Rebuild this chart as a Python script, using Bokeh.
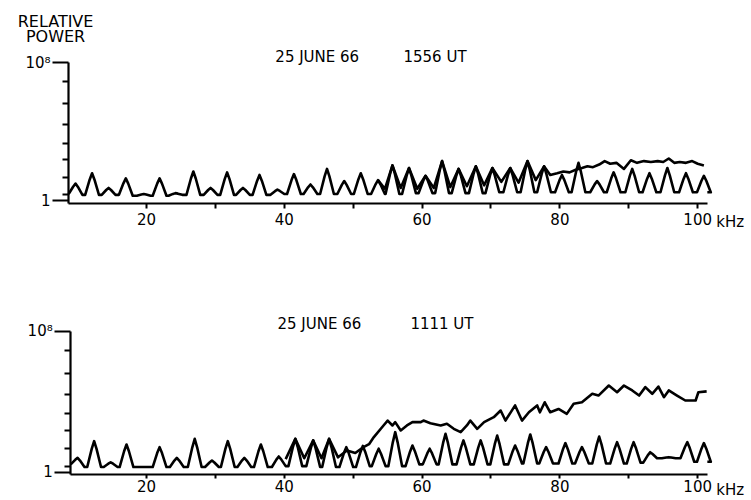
from bokeh.plotting import figure
from bokeh.layouts import column
from bokeh.models import FixedTicker, Label
from bokeh.embed import file_html
from bokeh.resources import INLINE

FONT = "DejaVu Sans"

# ---------------- data (frequency in kHz, power as log10 of relative power) -------------
x_major = [20, 40, 60, 80, 100]
x_minor = [30, 50, 70, 90]
x_labels = {20: "20", 40: "40", 60: "60", 80: "80", 100: "100"}
y_major = [0, 8]
y_minor = [0.35, 1.34, 2.37, 3.32, 4.41, 5.61, 6.9]
y_labels = {0: "1", 8: "10\u2078"}
y_axis_label = ["RELATIVE", "POWER"]
freq_unit = "kHz"

# top panel: 25 JUNE 66 1556 UT
top_title_date = "25 JUNE 66"
top_title_time = "1556 UT"
top_peak_khz = [9.7, 12.1, 14.5, 17.0, 19.6, 21.9, 24.2, 26.8, 29.3, 31.7, 34.0, 36.4, 39.0,
                41.4, 43.8, 46.2, 48.7, 51.1, 53.6, 55.7, 58.1, 60.5, 62.9, 65.3, 67.8, 70.2,
                72.8, 75.3, 77.7, 80.3, 82.7, 85.4, 87.8, 90.5, 93.0, 95.6, 98.3, 100.9]
top_peak_pow = [1.0, 1.6, 0.75, 1.3, 0.4, 1.3, 0.45, 1.7, 0.75, 1.65, 0.75, 1.5, 0.65,
                1.55, 0.95, 1.85, 1.15, 1.6, 1.2, 2.05, 1.9, 1.45, 2.3, 1.85, 2.0, 1.9,
                1.9, 2.3, 2.0, 1.5, 2.2, 1.15, 1.65, 1.85, 1.6, 1.9, 1.6, 1.45]
top_trough_pow = [0.4, 0.35, 0.35, 0.35, 0.3, 0.3, 0.3, 0.35, 0.35, 0.35, 0.35, 0.35, 0.35,
                  0.4, 0.4, 0.4, 0.4, 0.4, 0.4, 0.4, 0.4, 0.45, 0.45, 0.45, 0.45, 0.45,
                  0.5, 0.5, 0.5, 0.5, 0.5, 0.5, 0.5, 0.5, 0.5, 0.5, 0.5, 0.5, 0.5]
top_upper_khz = [53.6, 54.6, 55.7, 56.9, 58.1, 59.3, 60.5, 61.7, 62.9, 64.1, 65.3, 66.5, 67.8,
                 69.0, 70.2, 71.5, 72.8, 74.0, 75.3, 76.5, 77.7, 78.6, 79.6, 80.5, 81.4, 82.3,
                 83.2, 84.0, 84.8, 85.7, 86.5, 87.3, 88.2, 89.3, 90.3, 91.2, 92.2, 93.2, 94.2,
                 95.0, 95.8, 96.6, 97.4, 98.3, 99.2, 100.0, 100.9]
top_upper_pow = [1.2, 0.7, 2.05, 0.75, 1.9, 0.7, 1.45, 0.75, 2.3, 0.8, 1.85, 0.85, 2.0,
                 0.9, 1.9, 1.1, 1.9, 1.05, 2.3, 1.2, 2.0, 1.5, 1.6, 1.7, 1.65, 1.8,
                 1.9, 2.0, 1.95, 2.1, 2.3, 2.15, 2.2, 1.85, 2.35, 2.2, 2.3, 2.25, 2.3,
                 2.25, 2.45, 2.2, 2.25, 2.2, 2.3, 2.15, 2.05]

# bottom panel: 25 JUNE 66 1111 UT
bot_title_date = "25 JUNE 66"
bot_title_time = "1111 UT"
bot_peak_khz = [10.0, 12.4, 14.8, 17.1, 19.6, 21.9, 24.4, 27.0, 29.5, 31.8, 34.2, 36.6, 39.2,
                41.6, 44.2, 46.5, 49.0, 51.4, 53.7, 56.1, 58.6, 61.1, 63.4, 66.0, 68.5, 70.9,
                73.5, 75.7, 78.0, 80.8, 83.2, 85.7, 88.3, 90.7, 93.1, 95.8, 98.5, 100.9]
bot_peak_pow = [0.82, 1.77, 0.57, 1.58, 0.3, 1.43, 0.82, 1.9, 0.67, 1.77, 0.82, 1.58, 0.9,
                1.9, 1.81, 1.9, 1.43, 1.5, 1.34, 2.28, 1.52, 1.34, 2.19, 1.81, 1.81, 2.09,
                1.52, 2.15, 1.43, 1.66, 1.43, 2.03, 1.71, 1.71, 1.14, 0.86, 1.71, 1.66]
bot_trough_pow = [0.45, 0.3, 0.3, 0.3, 0.3, 0.3, 0.3, 0.3, 0.3, 0.3, 0.3, 0.3, 0.3,
                  0.35, 0.35, 0.3, 0.3, 0.3, 0.35, 0.35, 0.35, 0.45, 0.45, 0.45, 0.45, 0.45,
                  0.45, 0.5, 0.5, 0.5, 0.5, 0.5, 0.5, 0.5, 0.55, 0.8, 0.8, 0.6, 0.6]
bot_upper_khz = [40.2, 41.6, 42.9, 44.2, 45.4, 46.5, 47.8, 49.1, 50.3, 51.5, 52.3, 53.0, 54.4,
                 55.0, 55.7, 56.1, 56.9, 57.8, 58.6, 59.8, 60.2, 61.2, 62.7, 63.6, 64.6, 65.6,
                 66.5, 67.0, 68.0, 69.0, 70.4, 71.4, 72.1, 73.5, 74.5, 75.5, 76.7, 77.1, 77.8,
                 78.6, 79.8, 81.0, 82.0, 83.2, 84.7, 85.6, 87.1, 88.3, 89.3, 90.5, 91.5, 92.4,
                 93.4, 94.3, 95.1, 95.8, 97.0, 98.2, 99.7, 100.1, 101.3]
bot_upper_pow = [0.75, 1.9, 0.8, 1.81, 0.8, 1.9, 0.85, 1.24, 1.1, 1.43, 1.6, 2.0, 2.66,
                 2.94, 2.66, 2.85, 2.38, 2.66, 2.85, 2.85, 2.94, 2.79, 2.66, 2.76, 2.47, 2.28,
                 2.66, 2.94, 2.47, 2.85, 3.13, 3.51, 2.94, 3.8, 2.94, 3.41, 3.8, 3.41, 3.98,
                 3.41, 3.6, 3.32, 3.89, 3.98, 4.46, 4.36, 4.93, 4.55, 4.93, 4.65, 4.36, 4.84,
                 4.46, 4.87, 4.27, 4.65, 4.36, 4.08, 4.08, 4.55, 4.6]

# drawing shape of each resonance peak (kHz offsets from the peak centre)
HALF_WIDTH = 1.0
SHOULDER = 0.35
SHOULDER_FRAC = 0.7


def peak_trace(x0, x1, pk_f, pk_p, tr_p):
    xs, ys = [x0], [tr_p[0]]
    for i, (f, pw) in enumerate(zip(pk_f, pk_p)):
        lo, hi = tr_p[i], tr_p[i + 1]
        xs += [f - HALF_WIDTH, f - SHOULDER, f, f + SHOULDER, f + HALF_WIDTH]
        ys += [lo, lo + SHOULDER_FRAC * (pw - lo), pw, hi + SHOULDER_FRAC * (pw - hi), hi]
    xs.append(x1)
    ys.append(tr_p[-1])
    return xs, ys


def make_panel(yr, x_left, y_bottom):
    # frame covers the whole canvas; axes are pinned inside with fixed_location
    p = figure(width=751, height=250, x_range=(-1.19, 107.81), y_range=yr,
               output_backend="svg", toolbar_location=None,
               min_border_left=0, min_border_right=0,
               min_border_top=0, min_border_bottom=0)
    p.outline_line_color = None
    p.grid.visible = False
    p.background_fill_color = "white"
    p.border_fill_color = "white"
    for ax in (p.xaxis[0], p.yaxis[0]):
        ax.axis_line_width = 2.2
        ax.axis_line_color = "black"
        ax.major_tick_line_width = 2
        ax.minor_tick_line_width = 2
        ax.major_tick_in = 0
        ax.minor_tick_in = 0
        ax.major_label_text_font = FONT
        ax.major_label_text_color = "black"
    xa = p.xaxis[0]
    xa.fixed_location = y_bottom
    xa.bounds = (x_left, 101.4)
    xa.ticker = FixedTicker(ticks=x_major, minor_ticks=x_minor)
    xa.major_label_overrides = x_labels
    xa.major_label_text_font_size = "15px"
    ya = p.yaxis[0]
    ya.fixed_location = x_left
    ya.bounds = (y_bottom, 8.0)
    ya.ticker = FixedTicker(ticks=y_major, minor_ticks=y_minor)
    ya.major_label_overrides = y_labels
    ya.major_label_text_font_size = "15px"
    ya.major_tick_out = 16
    ya.minor_tick_out = 6
    ya.major_label_standoff = 2
    return p


def add_text(p, x, y, text, size, align="left", baseline="middle"):
    p.add_layout(Label(x=x, y=y, text=text, text_font=FONT, text_font_size=size,
                       text_align=align, text_baseline=baseline, text_color="black"))


# ---------------- top panel ----------------
p1 = make_panel((-2.867, 11.584), 8.7, -0.15)
p1.xaxis[0].major_tick_out = 5
p1.xaxis[0].minor_tick_out = 5
p1.xaxis[0].major_label_standoff = 5
xs, ys = peak_trace(8.7, 101.4, top_peak_khz, top_peak_pow, top_trough_pow)
p1.line(xs, ys, line_color="black", line_width=2.6, line_join="round")
p1.line(top_upper_khz, top_upper_pow, line_color="black", line_width=2.6, line_join="round")
add_text(p1, 6.8, 10.37, y_axis_label[0], "16px", "center")
add_text(p1, 6.8, 9.5, y_axis_label[1], "16px", "center")
add_text(p1, 38.7, 8.29, top_title_date, "15px")
add_text(p1, 57.3, 8.29, top_title_time, "15px")
add_text(p1, 102.7, -0.728, freq_unit, "15px", baseline="top")

# ---------------- bottom panel ----------------
p2 = make_panel((-1.602, 12.602), 9.0, -0.12)
p2.xaxis[0].major_tick_out = 4
p2.xaxis[0].minor_tick_out = 4
p2.xaxis[0].major_label_standoff = 2
xs, ys = peak_trace(9.0, 101.4, bot_peak_khz, bot_peak_pow, bot_trough_pow)
p2.line(xs, ys, line_color="black", line_width=2.6, line_join="round")
p2.line(bot_upper_khz, bot_upper_pow, line_color="black", line_width=2.6, line_join="round")
add_text(p2, 39.0, 8.45, bot_title_date, "15px")
add_text(p2, 58.3, 8.45, bot_title_time, "15px")
add_text(p2, 102.7, -0.466, freq_unit, "15px", baseline="top")

layout = column(p1, p2, spacing=0)
open("out.html", "w").write(file_html(layout, INLINE))
